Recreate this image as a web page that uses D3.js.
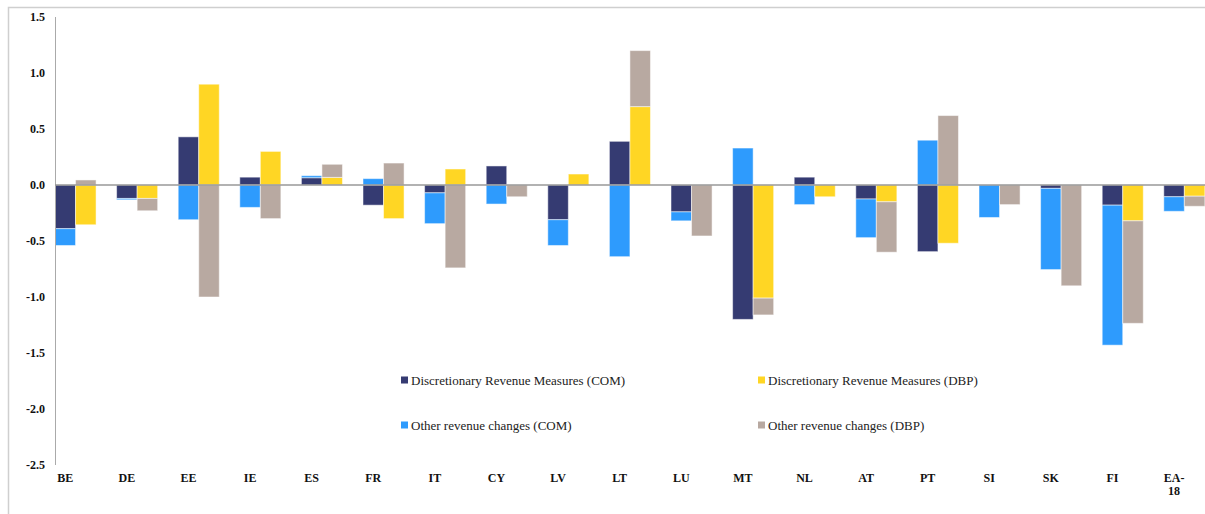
<!DOCTYPE html>
<html>
<head>
<meta charset="utf-8">
<script src="https://cdn.jsdelivr.net/npm/d3@7"></script>
<style>
  html, body { margin: 0; padding: 0; background: #fff; }
</style>
</head>
<body>
<svg width="1205" height="514"></svg>
<script>
(function (d3) {
  'use strict';

  const FONT = "'Liberation Serif', 'Times New Roman', 'DejaVu Serif', serif";

  const categories = ['BE', 'DE', 'EE', 'IE', 'ES', 'FR', 'IT', 'CY', 'LV', 'LT',
    'LU', 'MT', 'NL', 'AT', 'PT', 'SI', 'SK', 'FI', 'EA-18'];

  // COM stack
  const discComValues = [-0.39, -0.12, 0.43, 0.07, 0.065, -0.18, -0.07, 0.17, -0.31, 0.39,
    -0.24, -1.20, 0.07, -0.125, -0.595, 0, -0.03, -0.18, -0.105];
  const otherComValues = [-0.15, -0.012, -0.31, -0.20, 0.018, 0.057, -0.275, -0.17, -0.23, -0.64,
    -0.08, 0.33, -0.175, -0.345, 0.40, -0.29, -0.725, -1.25, -0.13];
  // DBP stack
  const discDbpValues = [-0.355, -0.12, 0.90, 0.30, 0.068, -0.30, 0.143, 0, 0.098, 0.70,
    0, -1.01, -0.105, -0.15, -0.52, 0, 0, -0.32, -0.10];
  const otherDbpValues = [0.045, -0.11, -1.0, -0.30, 0.117, 0.196, -0.74, -0.105, 0, 0.50,
    -0.455, -0.15, 0, -0.45, 0.62, -0.175, -0.90, -0.915, -0.09];

  const yTicks = [1.5, 1.0, 0.5, 0.0, -0.5, -1.0, -1.5, -2.0, -2.5];

  const SERIES = [
    { key: 'discCom', stack: 'COM', label: 'Discretionary Revenue Measures (COM)', color: '#353b72', values: discComValues },
    { key: 'otherCom', stack: 'COM', label: 'Other revenue changes (COM)', color: '#2e9bfd', values: otherComValues },
    { key: 'discDbp', stack: 'DBP', label: 'Discretionary Revenue Measures (DBP)', color: '#ffd624', values: discDbpValues },
    { key: 'otherDbp', stack: 'DBP', label: 'Other revenue changes (DBP)', color: '#b8a9a1', values: otherDbpValues }
  ];

  const svg = d3.select('svg');

  // outer frame
  svg.append('rect')
    .attr('x', 8.5).attr('y', 7.5)
    .attr('width', 1220).attr('height', 520)
    .attr('fill', 'none')
    .attr('stroke', '#cfcfcf')
    .attr('stroke-width', 1.5);

  const x = d3.scaleBand()
    .domain(categories)
    .range([55, 55 + 61.6 * categories.length])
    .padding(0);

  const xSub = d3.scaleBand()
    .domain(['COM', 'DBP'])
    .range([0, x.bandwidth() * 2 / 3])
    .padding(0);

  const y = d3.scaleLinear()
    .domain([-2.5, 1.5])
    .range([465, 17]);

  // build table for stacking
  const table = categories.map((c, i) => {
    const row = { cat: c };
    SERIES.forEach(s => { row[s.key] = s.values[i]; });
    return row;
  });

  const g = svg.append('g');

  ['COM', 'DBP'].forEach(stackName => {
    const group = SERIES.filter(s => s.stack === stackName);
    const stacked = d3.stack()
      .keys(group.map(s => s.key))
      .offset(d3.stackOffsetDiverging)(table);

    stacked.forEach((layer, li) => {
      g.append('g')
        .attr('fill', group[li].color)
        .selectAll('rect')
        .data(layer.filter(d => d[0] !== d[1]))
        .join('rect')
        .attr('x', d => x(d.data.cat) + xSub(stackName))
        .attr('y', d => y(Math.max(d[0], d[1])))
        .attr('width', xSub.bandwidth())
        .attr('height', d => Math.abs(y(d[0]) - y(d[1])))
        .attr('stroke', 'rgba(255,255,255,0.5)')
        .attr('stroke-width', 1);
    });
  });

  // y axis line
  svg.append('line')
    .attr('x1', 55.5).attr('x2', 55.5)
    .attr('y1', y(1.5)).attr('y2', y(-2.5))
    .attr('stroke', '#aaa');

  // zero line
  svg.append('line')
    .attr('x1', 55).attr('x2', 1205)
    .attr('y1', y(0)).attr('y2', y(0))
    .attr('stroke', '#999')
    .attr('stroke-width', 1.5);

  // y tick labels
  const yFormat = d3.format('.1f');
  svg.append('g')
    .selectAll('text')
    .data(yTicks)
    .join('text')
    .attr('font-family', FONT)
    .attr('font-size', 12)
    .attr('font-weight', 'bold')
    .attr('fill', '#111')
    .attr('x', 45)
    .attr('y', d => y(d))
    .attr('dy', '0.35em')
    .attr('text-anchor', 'end')
    .text(d => yFormat(d).replace('\u2212', '-'));

  // category labels (placed under the first bar of each group)
  const catG = svg.append('g');
  categories.forEach(c => {
    const cx = x(c) + xSub.bandwidth() / 2;
    const parts = c === 'EA-18' ? ['EA-', '18'] : [c];
    const t = catG.append('text')
      .attr('font-family', FONT)
      .attr('font-size', 12)
      .attr('font-weight', 'bold')
      .attr('fill', '#111')
      .attr('text-anchor', 'middle')
      .attr('x', cx)
      .attr('y', 482);
    parts.forEach((p, i) => {
      t.append('tspan')
        .attr('x', cx)
        .attr('dy', i === 0 ? 0 : 13)
        .text(p);
    });
  });

  // legend
  const legendPos = [[401, 380], [758, 380], [401, 425], [758, 425]];
  const legendOrder = ['discCom', 'discDbp', 'otherCom', 'otherDbp'];
  const legend = svg.append('g');
  legendOrder.forEach((k, i) => {
    const s = SERIES.find(d => d.key === k);
    const [lx, ly] = legendPos[i];
    legend.append('rect')
      .attr('x', lx).attr('y', ly - 3.5)
      .attr('width', 7).attr('height', 7)
      .attr('fill', s.color);
    legend.append('text')
      .attr('font-family', FONT)
      .attr('font-size', 13)
      .attr('fill', '#222')
      .attr('x', lx + 10)
      .attr('y', ly)
      .attr('dy', '0.35em')
      .text(s.label);
  });

}(d3));
</script>
</body>
</html>
